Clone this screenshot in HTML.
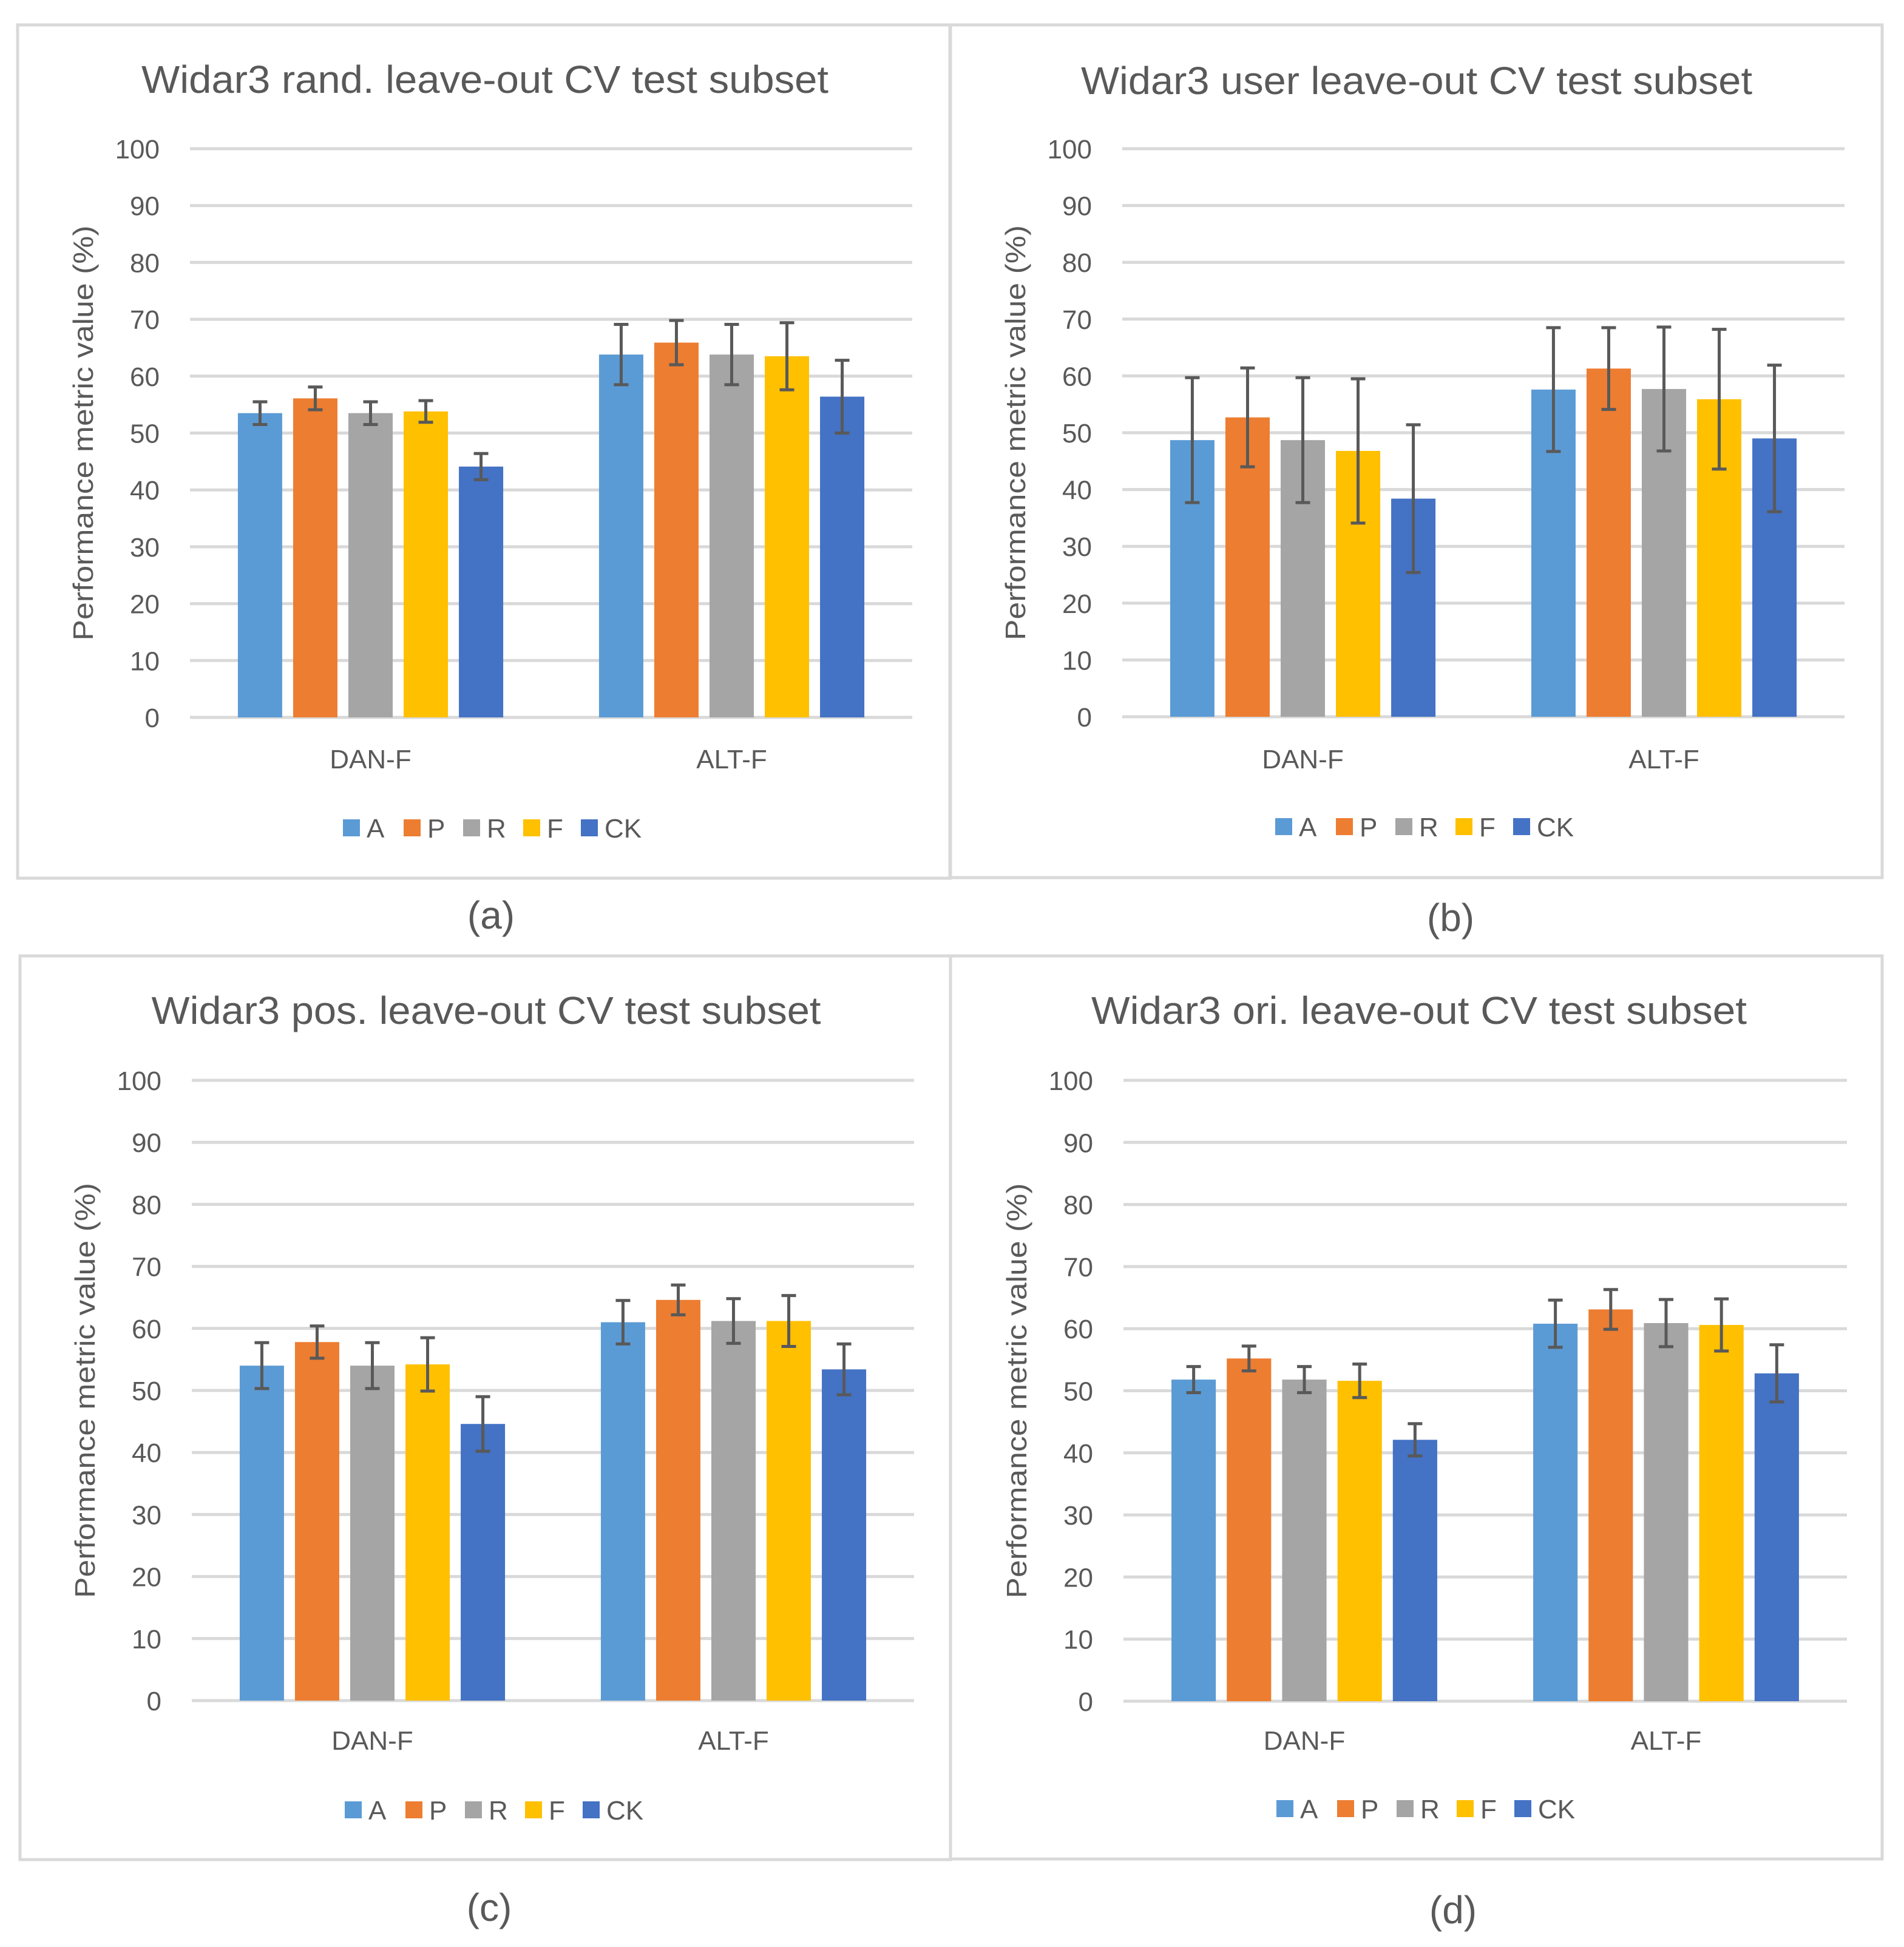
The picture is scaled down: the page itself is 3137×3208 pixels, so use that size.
<!DOCTYPE html>
<html><head><meta charset="utf-8"><style>
html,body{margin:0;padding:0;background:#fff}
svg{display:block}
text{font-family:"Liberation Sans",sans-serif;fill:#595959}
</style></head><body>
<svg id="fig" width="3137" height="3208" viewBox="0 0 3137 3208" xmlns="http://www.w3.org/2000/svg"></svg>
<script>
const categories = ["DAN-F", "ALT-F"];
const seriesNames = ["A", "P", "R", "F", "CK"];
const seriesColors = ["#5b9bd5", "#ed7d31", "#a5a5a5", "#ffc000", "#4472c4"];
const yTicks = [0, 10, 20, 30, 40, 50, 60, 70, 80, 90, 100];
const titles = ["Widar3 rand. leave-out CV test subset", "Widar3 user leave-out CV test subset", "Widar3 pos. leave-out CV test subset", "Widar3 ori. leave-out CV test subset"];
const captions = ["(a)", "(b)", "(c)", "(d)"];
// values per panel: [DAN-F series..., ALT-F series...]
const valuesA = [[53.5, 56.1, 53.5, 53.8, 44.1], [63.8, 65.9, 63.8, 63.5, 56.4]];
const errorsA = [[2.0, 2.0, 2.0, 1.9, 2.3], [5.3, 3.9, 5.3, 5.9, 6.4]];
const valuesB = [[48.7, 52.7, 48.7, 46.8, 38.4], [57.6, 61.3, 57.7, 55.9, 49.0]];
const errorsB = [[11.0, 8.7, 11.0, 12.7, 13.0], [10.9, 7.2, 10.9, 12.3, 12.9]];
const valuesC = [[54.0, 57.8, 54.0, 54.2, 44.6], [61.0, 64.6, 61.2, 61.2, 53.4]];
const errorsC = [[3.7, 2.6, 3.7, 4.3, 4.4], [3.5, 2.4, 3.6, 4.1, 4.1]];
const valuesD = [[51.8, 55.2, 51.8, 51.6, 42.1], [60.8, 63.1, 60.9, 60.6, 52.8]];
const errorsD = [[2.1, 2.0, 2.1, 2.7, 2.6], [3.8, 3.2, 3.8, 4.2, 4.6]];

const NS = "http://www.w3.org/2000/svg";
const svg = document.getElementById("fig");
function mk(tag, attrs, parent, txt) {
  const e = document.createElementNS(NS, tag);
  for (const k in attrs) e.setAttribute(k, attrs[k]);
  if (txt !== undefined) e.textContent = txt;
  parent.appendChild(e);
  return e;
}
const panels = [
  {vals: valuesA, errs: errorsA, box: [29, 41, 1566, 1447], px: [313, 1503], py: [245, 1182], titleX: 799, titleY: 153, titleW: 1132, catY: 1266, legY: 1364, capX: 809, capY: 1530},
  {vals: valuesB, errs: errorsB, box: [1565, 41, 3101, 1446], px: [1849, 3039], py: [245, 1181], titleX: 2334, titleY: 155, titleW: 1106, catY: 1266, legY: 1362, capX: 2390, capY: 1534},
  {vals: valuesC, errs: errorsC, box: [33, 1575, 1566, 3064], px: [316, 1506], py: [1780, 2802], titleX: 801, titleY: 1687, titleW: 1103, catY: 2883, legY: 2982, capX: 806, capY: 3165},
  {vals: valuesD, errs: errorsD, box: [1566, 1575, 3101, 3063], px: [1851, 3043], py: [1780, 2803], titleX: 2338, titleY: 1687, titleW: 1080, catY: 2883, legY: 2980, capX: 2394, capY: 3169}
];
panels.forEach((p, pi) => {
  const g = mk("g", {}, svg);
  
  
  const bx = mk("rect", {x: p.box[0], y: p.box[1], width: p.box[2] - p.box[0], height: p.box[3] - p.box[1], fill: "none", stroke: "#d9d9d9", "stroke-width": 5}, g);
  
  
  const t = mk("text", {x: p.titleX, y: p.titleY, "text-anchor": "middle", "font-size": 64, textLength: p.titleW, lengthAdjust: "spacingAndGlyphs"}, g, titles[pi]);
  
  
  const x0 = p.px[0], x1 = p.px[1], y0 = p.py[1], y100 = p.py[0];
  const yScale = v => y0 - (v / 100) * (y0 - y100);
  const catW = (x1 - x0) / categories.length;
  const barW = catW * 0.1227, step = catW * 0.153;
  const groupW = step * (seriesNames.length - 1) + barW;
  yTicks.forEach(tv => {
    const y = yScale(tv);
    const gl = mk("line", {x1: x0, x2: x1, y1: y, y2: y, stroke: "#d9d9d9", "stroke-width": 5}, g);
    
    
    const tl = mk("text", {x: x0 - 50, y: y + 16, "text-anchor": "end", "font-size": 44}, g, String(tv));
    
    
  });
  const yl = mk("text", {x: 0, y: 0, "text-anchor": "middle", "font-size": 46, textLength: 684, lengthAdjust: "spacingAndGlyphs", transform: `translate(${x0 - 160},${(y0 + y100) / 2}) rotate(-90)`}, g, "Performance metric value (%)");
  
  
  categories.forEach((c, ci) => {
    const cx = x0 + catW * (ci + 0.5);
    const start = cx - groupW / 2;
    seriesNames.forEach((s, si) => {
      const v = p.vals[ci][si], e = p.errs[ci][si];
      const bxl = start + si * step;
      const b = mk("rect", {x: bxl, y: yScale(v), width: barW, height: y0 - yScale(v), fill: seriesColors[si]}, g);
      
      
      const mx = bxl + barW / 2;
      const eg = mk("g", {stroke: "#595959", "stroke-width": 5}, g);
      
      
      mk("line", {x1: mx, x2: mx, y1: yScale(v + e), y2: yScale(v - e)}, eg);
      mk("line", {x1: mx - 12, x2: mx + 12, y1: yScale(v + e), y2: yScale(v + e)}, eg);
      mk("line", {x1: mx - 12, x2: mx + 12, y1: yScale(v - e), y2: yScale(v - e)}, eg);
    });
    const cl = mk("text", {x: cx, y: p.catY, "text-anchor": "middle", "font-size": 44}, g, c);
    
    
  });
  const legOff = [252, 352, 450, 549, 644];
  seriesNames.forEach((s, si) => {
    const lg = mk("g", {}, g);
    
    
    const lx = x0 + legOff[si];
    mk("rect", {x: lx, y: p.legY - 14, width: 28, height: 28, fill: seriesColors[si]}, lg);
    mk("text", {x: lx + 39, y: p.legY + 16, "font-size": 44}, lg, s);
  });
  const cap = mk("text", {x: p.capX, y: p.capY, "text-anchor": "middle", "font-size": 64}, svg, captions[pi]);
  
  
});
</script>
</body></html>
